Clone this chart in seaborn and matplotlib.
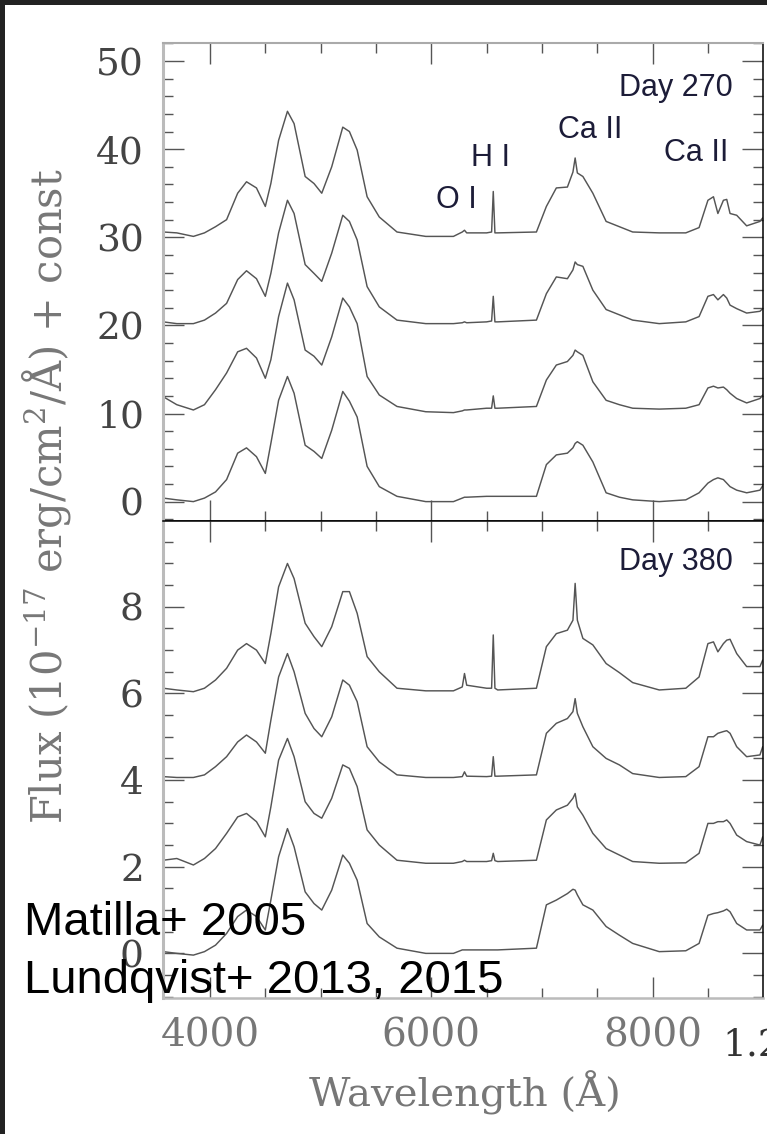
import numpy as np
import pandas as pd
import matplotlib
matplotlib.use("Agg")
import matplotlib.pyplot as plt
import seaborn as sns
from matplotlib.ticker import MultipleLocator
from matplotlib.patches import Rectangle

# ---------------- data ----------------
wavelength = [3578, 3700, 3850, 3950, 4050, 4150, 4250, 4330, 4420, 4500,
              4550, 4620, 4700, 4760, 4860, 4940, 5010, 5100, 5200, 5260,
              5330, 5420, 5530, 5690, 5950, 6200, 6280, 6300, 6320, 6500,
              6545, 6560, 6575, 6600, 6950, 7040, 7130, 7230, 7280, 7300,
              7320, 7370, 7460, 7580, 7700, 7820, 8060, 8300, 8420, 8500,
              8550, 8590, 8640, 8670, 8700, 8760, 8850, 8970, 8995]

# Day 270 panel (offset spectra)
day270_a = [30.6, 30.5, 30.1, 30.5, 31.2, 32.0, 35.0, 36.3, 35.6, 33.5,
            36.1, 41.0, 44.3, 42.9, 36.9, 36.1, 35.0, 38.0, 42.5, 42.0,
            39.9, 34.6, 32.3, 30.6, 30.1, 30.1, 30.6, 30.8, 30.5, 30.5,
            30.6, 35.2, 30.5, 30.5, 30.6, 33.5, 35.6, 35.7, 37.4, 39.0,
            37.3, 36.9, 35.0, 31.8, 31.2, 30.6, 30.5, 30.5, 31.1, 34.2,
            34.6, 32.7, 34.2, 34.3, 32.7, 32.5, 31.3, 31.8, 32.2]
day270_b = [20.4, 20.2, 20.2, 20.6, 21.4, 22.5, 25.2, 26.2, 25.3, 23.3,
            25.9, 30.5, 34.2, 32.7, 26.9, 25.9, 25.0, 28.2, 32.5, 31.8,
            29.7, 24.4, 22.1, 20.6, 20.2, 20.2, 20.3, 20.4, 20.3, 20.4,
            20.5, 23.3, 20.4, 20.4, 20.6, 23.6, 25.5, 25.3, 26.3, 27.2,
            26.9, 26.7, 24.0, 21.8, 21.2, 20.6, 20.2, 20.4, 21.0, 23.3,
            23.5, 22.9, 23.5, 23.1, 22.3, 21.9, 21.4, 21.6, 21.9]
day270_c = [11.9, 11.0, 10.4, 11.0, 12.7, 14.6, 17.0, 17.4, 16.3, 14.0,
            16.1, 21.0, 24.8, 22.9, 17.2, 16.5, 15.5, 18.7, 23.1, 22.1,
            20.2, 14.2, 12.1, 10.8, 10.2, 10.1, 10.3, 10.4, 10.4, 10.6,
            10.6, 12.0, 10.6, 10.6, 10.8, 13.8, 15.5, 15.9, 16.6, 17.2,
            17.0, 16.6, 13.6, 11.5, 11.0, 10.6, 10.5, 10.6, 11.0, 12.9,
            13.1, 12.9, 13.0, 12.7, 12.3, 11.7, 11.2, 11.7, 12.1]
day270_d = [0.4, 0.2, 0.0, 0.4, 1.1, 2.5, 5.5, 6.1, 5.1, 3.2,
            6.6, 11.5, 14.2, 12.3, 6.4, 5.7, 4.9, 8.1, 12.5, 11.4,
            9.6, 4.0, 1.7, 0.6, 0.0, 0.0, 0.4, 0.5, 0.5, 0.6,
            0.6, 0.6, 0.6, 0.6, 0.6, 4.2, 5.3, 5.5, 6.1, 6.6,
            6.8, 6.4, 4.5, 1.0, 0.5, 0.2, 0.0, 0.2, 1.0, 2.1,
            2.5, 2.7, 2.5, 2.1, 1.7, 1.3, 1.0, 1.3, 1.8]

# Day 380 panel
day380_a = [6.12, 6.08, 6.04, 6.12, 6.31, 6.58, 7.00, 7.15, 7.00, 6.69,
            7.38, 8.46, 9.00, 8.65, 7.62, 7.31, 7.08, 7.54, 8.35, 8.35,
            7.85, 6.85, 6.50, 6.12, 6.06, 6.06, 6.15, 6.46, 6.19, 6.12,
            6.12, 7.35, 6.12, 6.08, 6.12, 7.08, 7.38, 7.46, 7.69, 8.54,
            7.69, 7.27, 7.12, 6.69, 6.48, 6.25, 6.08, 6.12, 6.38, 7.15,
            7.19, 6.96, 7.15, 7.23, 7.25, 6.92, 6.62, 6.62, 6.77]
day380_b = [4.08, 4.06, 4.06, 4.12, 4.31, 4.54, 4.88, 5.04, 4.88, 4.62,
            5.38, 6.38, 6.92, 6.50, 5.54, 5.19, 5.00, 5.46, 6.31, 6.19,
            5.81, 4.77, 4.42, 4.12, 4.06, 4.06, 4.08, 4.19, 4.09, 4.08,
            4.09, 4.54, 4.09, 4.09, 4.12, 5.08, 5.31, 5.42, 5.58, 5.88,
            5.54, 5.23, 4.77, 4.50, 4.35, 4.15, 4.06, 4.08, 4.31, 5.00,
            5.00, 5.08, 5.12, 5.14, 5.08, 4.77, 4.54, 4.58, 4.77]
day380_c = [2.15, 2.19, 2.04, 2.19, 2.42, 2.77, 3.15, 3.23, 3.04, 2.69,
            3.38, 4.46, 4.96, 4.54, 3.50, 3.23, 3.12, 3.58, 4.35, 4.27,
            3.85, 2.85, 2.50, 2.15, 2.08, 2.08, 2.12, 2.15, 2.12, 2.12,
            2.14, 2.31, 2.14, 2.12, 2.15, 3.08, 3.31, 3.42, 3.58, 3.69,
            3.38, 3.19, 2.77, 2.42, 2.27, 2.12, 2.08, 2.09, 2.31, 3.00,
            3.00, 3.04, 3.04, 3.08, 3.00, 2.73, 2.58, 2.50, 2.69]
day380_d = [0.04, 0.0, -0.04, 0.04, 0.19, 0.46, 0.85, 1.0, 0.85, 0.54,
            1.23, 2.23, 2.88, 2.46, 1.42, 1.15, 1.0, 1.46, 2.27, 2.08,
            1.69, 0.69, 0.38, 0.12, 0.0, 0.0, 0.08, 0.08, 0.08, 0.08,
            0.08, 0.08, 0.08, 0.08, 0.12, 1.12, 1.23, 1.38, 1.48, 1.46,
            1.35, 1.12, 1.0, 0.62, 0.42, 0.23, 0.04, 0.06, 0.23, 0.88,
            0.92, 0.94, 0.98, 1.02, 0.96, 0.69, 0.54, 0.54, 0.65]

panel_labels = ["Day 270", "Day 380"]
line_ids = ["O I", "H I", "Ca II", "Ca II"]
x_ticks_major = [4000, 6000, 8000]
refs = ["Matilla+ 2005", "Lundqvist+ 2013, 2015"]


def long_frame(series):
    rows = []
    for name, vals in series.items():
        for w, f in zip(wavelength, vals):
            rows.append((name, w, f))
    return pd.DataFrame(rows, columns=["spec", "wave", "flux"])


df270 = long_frame({"a": day270_a, "b": day270_b, "c": day270_c, "d": day270_d})
df380 = long_frame({"a": day380_a, "b": day380_b, "c": day380_c, "d": day380_d})

# ---------------- figure ----------------
sns.set_theme(style="white")
plt.rcParams["font.family"] = ["DejaVu Serif"]
plt.rcParams["mathtext.fontset"] = "dejavuserif"

W_PX, H_PX = 767, 1134
fig = plt.figure(figsize=(W_PX / 100, H_PX / 100), dpi=100, facecolor="#222222")
fig.add_artist(Rectangle((5 / W_PX, 0), 1, 1 - 5 / H_PX, transform=fig.transFigure,
                         facecolor="white", edgecolor="none", zorder=-10))

left = 163.3 / W_PX
width = (762.7 - 163.3) / W_PX
ax1 = fig.add_axes([left, 1 - 521 / H_PX, width, (521 - 43) / H_PX])
ax2 = fig.add_axes([left, 1 - 998 / H_PX, width, (998 - 521) / H_PX])

LINE_C = "#555555"
for ax, df in ((ax1, df270), (ax2, df380)):
    sns.lineplot(data=df, x="wave", y="flux", units="spec", estimator=None,
                 color=LINE_C, linewidth=1.05, sort=False, ax=ax, legend=False)
    ax.set_xlim(3578, 8995)
    ax.set_xlabel("")
    ax.set_ylabel("")
    ax.grid(False)
    ax.xaxis.set_major_locator(MultipleLocator(2000))
    ax.xaxis.set_minor_locator(MultipleLocator(500))
    ax.tick_params(which="both", direction="in", top=True, right=True,
                   bottom=True, left=True, color="#555555", width=1.0)
    ax.tick_params(which="major", length=15)
    ax.tick_params(which="minor", length=7.5)
    ax.tick_params(axis="y", which="major", labelsize=27, labelcolor="#444444", pad=14)
    ax.set_facecolor("white")

ax1.set_ylim(-2.2, 52.05)
ax1.yaxis.set_major_locator(MultipleLocator(10))
ax1.yaxis.set_minor_locator(MultipleLocator(2))
ax1.tick_params(axis="x", labelbottom=False)

ax2.set_ylim(-1.03, 9.98)
ax2.yaxis.set_major_locator(MultipleLocator(2))
ax2.yaxis.set_minor_locator(MultipleLocator(0.5))
ax2.set_xticks(x_ticks_major)
ax2.set_xticklabels([str(v) for v in x_ticks_major])
ax2.tick_params(axis="x", which="major", labelsize=28, labelcolor="#777777", pad=14)

# spines
for ax in (ax1, ax2):
    ax.spines["left"].set_color("#bbbbbb")
    ax.spines["left"].set_linewidth(2.2)
    ax.spines["right"].set_color("black")
    ax.spines["right"].set_linewidth(1.1)
ax1.spines["top"].set_color("#aaaaaa")
ax1.spines["top"].set_linewidth(1.5)
ax1.spines["bottom"].set_color("black")
ax1.spines["bottom"].set_linewidth(1.1)
ax2.spines["top"].set_color("black")
ax2.spines["top"].set_linewidth(1.1)
ax2.spines["bottom"].set_color("#bbbbbb")
ax2.spines["bottom"].set_linewidth(1.8)

# annotations
ann = dict(family="Liberation Sans", fontsize=22, color="#1c1c38")
ax1.text(8726, 46.9, panel_labels[0], ha="right", va="center", **ann)
ax1.text(6223, 34.2, line_ids[0], ha="center", va="center", **ann)
ax1.text(6538, 39.0, line_ids[1], ha="center", va="center", **ann)
ax1.text(7434, 42.2, line_ids[2], ha="center", va="center", **ann)
ax1.text(8397, 39.6, line_ids[3], ha="center", va="center", **ann)
ax2.text(8726, 9.03, panel_labels[1], ha="right", va="center", **ann)

# axis labels
fig.text(47 / W_PX, 1 - 496 / H_PX, r"Flux (10$^{-17}$ erg/cm$^2$/Å) + const",
         rotation=90, ha="center", va="center", fontsize=30, color="#777777")
fig.text(465 / W_PX, 1 - 1093 / H_PX, "Wavelength (Å)", ha="center", va="center",
         fontsize=29, color="#777777")
fig.text(722 / W_PX, 1 - 1045 / H_PX, "1.2", ha="left", va="center",
         fontsize=27, color="#333333")

# references
fig.text(24 / W_PX, 1 - 935 / H_PX, refs[0], family="Liberation Sans",
         fontsize=34, color="black", va="baseline", ha="left")
fig.text(24 / W_PX, 1 - 993 / H_PX, refs[1], family="Liberation Sans",
         fontsize=34, color="black", va="baseline", ha="left")

fig.savefig("out.png", dpi=100, facecolor=fig.get_facecolor())
